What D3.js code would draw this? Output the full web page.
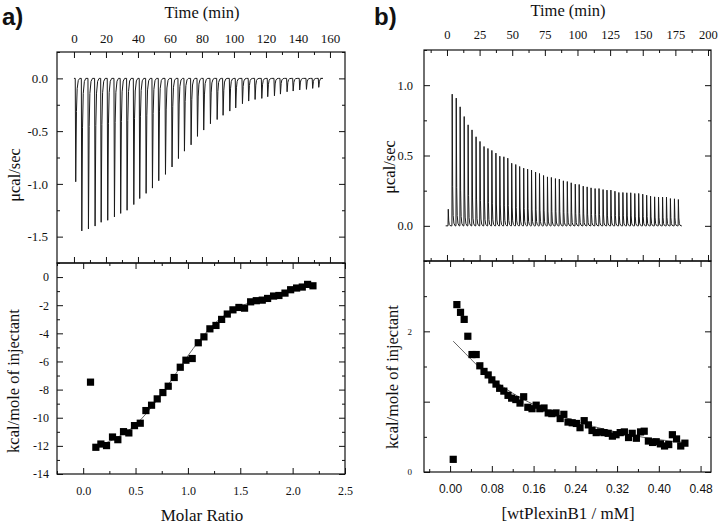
<!DOCTYPE html>
<html>
<head>
<meta charset="UTF-8">
<script src="https://d3js.org/d3.v7.min.js"></script>
<style>
  body { margin: 0; background: #fff; }
  text { font-family: "Liberation Serif", "Times New Roman", serif; fill: #111; }
  .domain { stroke: none; }
  .tick line { stroke: #111; stroke-width: 1; }
</style>
</head>
<body>
<svg width="726" height="528"></svg>
<script>
// ---- panel a: raw thermogram (injection time, peak heat rate)
const timeA = [0.8, 4.6, 8.75, 12.9, 16.7, 20.8, 25.0, 28.9, 32.9, 37.1, 40.8, 44.8, 48.75, 52.7, 56.9, 61.0, 65.0, 68.75, 72.9, 76.9,
  80.8, 85.0, 89.2, 92.9, 97.1, 100.8, 105, 108.9, 112.9, 117.1, 120.8, 125, 128.75, 132.9, 136.7, 140.8, 145, 148.9, 152.7];
const peakA = [-0.98, -1.446, -1.427, -1.40, -1.364, -1.345, -1.313, -1.28, -1.25, -1.196, -1.139, -1.09, -1.04, -0.97, -0.91, -0.84,
  -0.76, -0.69, -0.63, -0.55, -0.49, -0.43, -0.39, -0.35, -0.31, -0.28, -0.24, -0.215, -0.20, -0.19, -0.174, -0.165, -0.149, -0.127,
  -0.12, -0.11, -0.104, -0.095, -0.085];
// ---- panel a: integrated heats
const ratioA = [0.07, 0.121, 0.169, 0.223, 0.280, 0.331, 0.385, 0.436, 0.490, 0.545, 0.599, 0.653, 0.707, 0.761, 0.812, 0.869, 0.927,
  0.981, 1.041, 1.099, 1.153, 1.210, 1.268, 1.322, 1.376, 1.430, 1.487, 1.541, 1.599, 1.653, 1.710, 1.761, 1.818, 1.869, 1.927,
  1.981, 2.038, 2.092, 2.143, 2.194];
const heatA = [-7.47, -12.10, -11.87, -11.98, -11.37, -11.56, -10.99, -11.08, -10.56, -10.39, -9.49, -9.11, -8.66, -8.21, -7.76,
  -7.14, -6.41, -5.91, -5.79, -4.67, -4.25, -3.68, -3.44, -3.01, -2.63, -2.33, -2.16, -2.21, -1.76, -1.68, -1.64, -1.52, -1.35,
  -1.31, -1.14, -0.90, -0.78, -0.71, -0.52, -0.62];
const fitAx = [0.1, 0.3, 0.5, 0.7, 0.9, 1.0, 1.1, 1.3, 1.5, 1.7, 1.9, 2.1, 2.2];
const fitAy = [-12.1, -11.5, -10.5, -8.8, -6.7, -5.6, -4.6, -3.0, -2.1, -1.55, -1.1, -0.75, -0.62];

// ---- panel b: raw thermogram
const timeB = [0.8, 3.8, 6.9, 9.9, 13.0, 16.0, 19.0, 22.1, 25.1, 28.2, 31.2, 34.2, 37.3, 40.3, 43.4, 46.4, 49.4, 52.5, 55.5, 58.6,
  61.6, 64.6, 67.7, 70.7, 73.8, 76.8, 79.8, 82.9, 85.9, 89.0, 92.0, 95.0, 98.1, 101.1, 104.2, 107.2, 110.2, 113.3, 116.3, 119.4,
  122.4, 125.4, 128.5, 131.5, 134.6, 137.6, 140.6, 143.7, 146.7, 149.8, 152.8, 155.8, 158.9, 161.9, 165.0, 168.0, 171.0, 174.1, 177.1];
const peakB = [0.118, 0.936, 0.908, 0.846, 0.777, 0.718, 0.682, 0.633, 0.600, 0.564, 0.550, 0.536, 0.517, 0.495, 0.491, 0.481,
  0.445, 0.436, 0.422, 0.410, 0.403, 0.396, 0.382, 0.372, 0.358, 0.348, 0.344, 0.336, 0.332, 0.320, 0.315, 0.306, 0.296, 0.294,
  0.282, 0.277, 0.270, 0.265, 0.265, 0.258, 0.254, 0.254, 0.246, 0.237, 0.237, 0.235, 0.235, 0.230, 0.230, 0.225, 0.218, 0.211,
  0.206, 0.204, 0.204, 0.204, 0.194, 0.192, 0.187];
// ---- panel b: integrated heats
const concB = [0.006, 0.013, 0.020, 0.027, 0.034, 0.042, 0.050, 0.057, 0.065, 0.073, 0.080, 0.088, 0.095, 0.103, 0.111, 0.118,
  0.126, 0.134, 0.141, 0.149, 0.157, 0.165, 0.172, 0.180, 0.188, 0.195, 0.203, 0.211, 0.218, 0.226, 0.234, 0.242, 0.249, 0.257,
  0.265, 0.272, 0.280, 0.288, 0.295, 0.303, 0.311, 0.318, 0.326, 0.334, 0.342, 0.349, 0.357, 0.365, 0.372, 0.380, 0.388, 0.395,
  0.403, 0.411, 0.419, 0.426, 0.434, 0.442, 0.450];
const heatB = [0.18, 2.38, 2.27, 2.17, 1.93, 1.67, 1.67, 1.51, 1.43, 1.38, 1.31, 1.25, 1.19, 1.15, 1.09, 1.05, 1.03, 0.98, 1.07,
  0.92, 0.90, 0.95, 0.90, 0.91, 0.84, 0.83, 0.84, 0.76, 0.82, 0.71, 0.70, 0.69, 0.63, 0.73, 0.67, 0.59, 0.56, 0.57, 0.56, 0.55,
  0.51, 0.53, 0.56, 0.57, 0.49, 0.55, 0.48, 0.57, 0.58, 0.44, 0.42, 0.43, 0.40, 0.37, 0.39, 0.53, 0.47, 0.37, 0.41];
const fitBx = [0.006, 0.03, 0.05, 0.08, 0.12, 0.16, 0.20, 0.25, 0.30, 0.35, 0.40, 0.45];
const fitBy = [1.86, 1.68, 1.53, 1.33, 1.12, 0.96, 0.83, 0.70, 0.60, 0.52, 0.46, 0.42];

const svg = d3.select("svg");

// peak glyph: [time offset, fraction of peak]
function trace(times, peaks, shape, t0, t1) {
  const pts = [[t0, 0]];
  times.forEach((t, i) => shape.forEach(s => pts.push([t + s[0], peaks[i] * s[1]])));
  pts.push([t1, 0]);
  return pts;
}

// frame with inward ticks on all four sides
function frame(g, x, y, o) {
  const [x0, x1] = x.range(), [y0, y1] = y.range();
  const sides = [
    [d3.axisBottom, x, y0, 0, "x"], [d3.axisTop, x, y1, 0, "x"],
    [d3.axisLeft, y, 0, x0, "y"], [d3.axisRight, y, 0, x1, "y"]
  ];
  sides.forEach(([fn, sc, ty, tx, dim], i) => {
    const major = dim == "x" ? o.xMajor : o.yMajor;
    const minor = dim == "x" ? o.xMinor : o.yMinor;
    const labelled = (dim == "x" && o.xLabel == i) || (dim == "y" && i == 2);
    const fmt = dim == "x" ? o.xFmt : o.yFmt;
    g.append("g").attr("transform", `translate(${tx},${ty})`)
      .call(fn(sc).tickValues(minor).tickSizeInner(-3).tickSizeOuter(0).tickFormat(""));
    const a = g.append("g").attr("transform", `translate(${tx},${ty})`)
      .call(fn(sc).tickValues(major).tickSizeInner(-6).tickSizeOuter(0)
        .tickPadding(dim == "x" ? o.xPad : o.yPad)
        .tickFormat(labelled ? fmt : ""));
    a.selectAll("text").style("font-size", (dim == "x" ? o.xSize : o.ySize) + "px")
      .style("font-family", dim == "x" && o.xFont ? o.xFont : null);
  });
  g.append("rect").attr("x", x0).attr("y", y1).attr("width", x1 - x0).attr("height", y0 - y1)
    .attr("fill", "none").attr("stroke", "#111").attr("stroke-width", 1.2);
}

function squares(g, x, y, xs, ys) {
  g.selectAll(null).data(xs).join("rect")
    .attr("x", (d, i) => x(d) - 3.6).attr("y", (d, i) => y(ys[i]) - 3.6)
    .attr("width", 7.2).attr("height", 7.2).attr("fill", "#000");
}

function fitLine(g, x, y, xs, ys) {
  g.append("path").datum(xs.map((d, i) => [d, ys[i]]))
    .attr("fill", "none").attr("stroke", "#555").attr("stroke-width", 0.9)
    .attr("d", d3.line().x(d => x(d[0])).y(d => y(d[1])).curve(d3.curveMonotoneX));
}

const fmt1 = d => d.toFixed(1);

// ================= panel a
const gA = svg.append("g");
const xtA = d3.scaleLinear().domain([-10.6, 169.4]).range([57, 345]);
const ytA = d3.scaleLinear().domain([-1.75, 0.25]).range([263, 52]);
const shapeA = [[0, 0], [0.3, 1], [0.75, 0.32], [1.2, 0.1], [1.9, 0.02], [2.8, 0]];
gA.append("path").datum(trace(timeA, peakA, shapeA, 0, 154))
  .attr("fill", "none").attr("stroke", "#1a1a1a").attr("stroke-width", 1)
  .attr("d", d3.line().x(d => xtA(d[0])).y(d => ytA(d[1])));
frame(gA, xtA, ytA, {
  xMajor: d3.range(0, 161, 20), xMinor: d3.range(10, 170, 20), xLabel: 1, xFmt: d => d, xSize: 13, xPad: 9,
  yMajor: [-1.5, -1.0, -0.5, 0.0], yMinor: [-1.75, -1.25, -0.75, -0.25, 0.25], yFmt: fmt1, ySize: 13, yPad: 9
});

const xrA = d3.scaleLinear().domain([-0.25, 2.5]).range([57, 345]);
const yrA = d3.scaleLinear().domain([-14, 1]).range([474, 263]);
fitLine(gA, xrA, yrA, fitAx, fitAy);
squares(gA, xrA, yrA, ratioA, heatA);
frame(gA, xrA, yrA, {
  xMajor: [0, 0.5, 1.0, 1.5, 2.0, 2.5], xMinor: [-0.25, 0.25, 0.75, 1.25, 1.75, 2.25], xLabel: 0, xFmt: fmt1, xSize: 12, xPad: 12,
  yMajor: d3.range(-14, 1, 2), yMinor: d3.range(-13, 1, 2), yFmt: d => d, ySize: 12, yPad: 8
});

// ================= panel b
const gB = svg.append("g");
const xtB = d3.scaleLinear().domain([-17.6, 202.3]).range([424, 711]);
const ytB = d3.scaleLinear().domain([-0.25, 1.25]).range([261, 50]);
const shapeB = [[0, 0], [0.2, 1], [0.55, 0.3], [0.95, 0.08], [1.5, 0.02], [2.4, 0]];
gB.append("path").datum(trace(timeB, peakB, shapeB, -1, 180))
  .attr("fill", "none").attr("stroke", "#1a1a1a").attr("stroke-width", 1)
  .attr("d", d3.line().x(d => xtB(d[0])).y(d => ytB(d[1])));
frame(gB, xtB, ytB, {
  xMajor: d3.range(0, 201, 25), xMinor: d3.range(-12.5, 201, 25), xLabel: 1, xFmt: d => d, xSize: 12.5, xPad: 11,
  yMajor: [0.0, 0.5, 1.0], yMinor: [-0.25, 0.25, 0.75, 1.25], yFmt: fmt1, ySize: 12.5, yPad: 11
});

const xrB = d3.scaleLinear().domain([-0.05, 0.5]).range([424, 711]);
const yrB = d3.scaleLinear().domain([0, 3]).range([472, 261]);
fitLine(gB, xrB, yrB, fitBx, fitBy);
squares(gB, xrB, yrB, concB, heatB);
frame(gB, xrB, yrB, {
  xMajor: d3.range(0, 0.49, 0.08), xMinor: [-0.04, 0.04, 0.12, 0.2, 0.28, 0.36, 0.44], xLabel: 0,
  xFmt: d => d.toFixed(2), xSize: 12, xPad: 12, xFont: "'Liberation Sans', Arial, sans-serif",
  yMajor: [0, 1, 2], yMinor: [0.5, 1.5, 2.5], yFmt: d => (d == 1 ? "" : d), ySize: 9, yPad: 12
});

// ================= titles & labels
const label = (x, y, txt, size, rot) => {
  const t = svg.append("text").attr("text-anchor", "middle").style("font-size", size + "px").text(txt);
  if (rot) t.attr("transform", `translate(${x},${y}) rotate(-90)`);
  else t.attr("x", x).attr("y", y);
  return t;
};
label(202, 18, "Time (min)", 16.5);
label(568, 16, "Time (min)", 16.5);
label(20, 175, "μcal/sec", 16.5, true);
label(395, 167, "μcal/sec", 16.5, true);
label(19, 381, "kcal/mole of injectant", 16.5, true);
label(398, 377, "kcal/mole of injectant", 16.5, true);
label(202, 521, "Molar Ratio", 17);
label(568, 519, "[wtPlexinB1 / mM]", 17);
svg.append("text").attr("x", 2).attr("y", 25).style("font-family", "'Liberation Sans', Arial, sans-serif")
  .style("font-weight", "bold").style("font-size", "24px").text("a)");
svg.append("text").attr("x", 374).attr("y", 25).style("font-family", "'Liberation Sans', Arial, sans-serif")
  .style("font-weight", "bold").style("font-size", "24px").text("b)");
</script>
</body>
</html>
